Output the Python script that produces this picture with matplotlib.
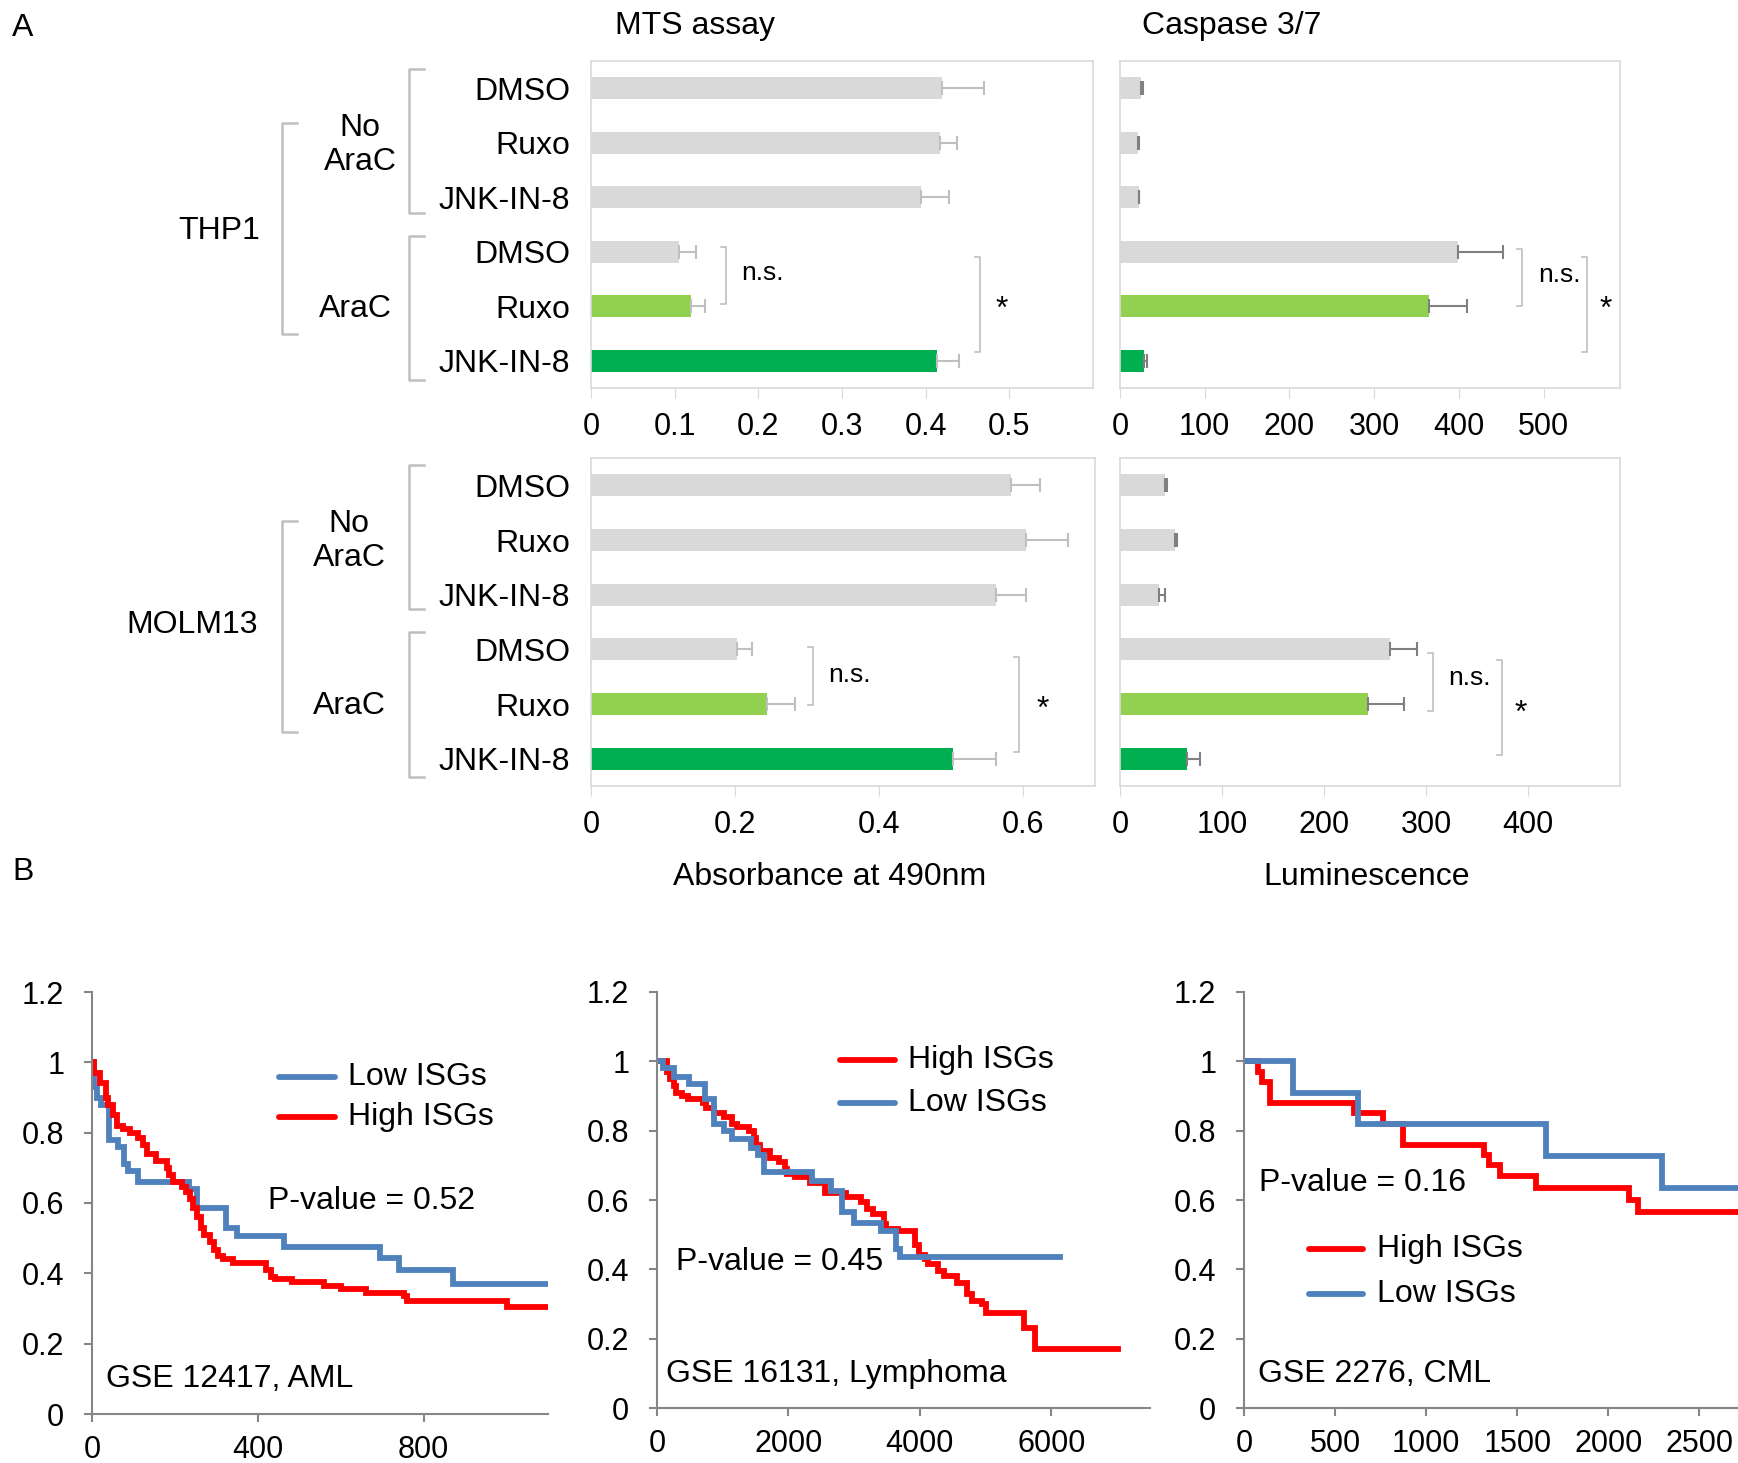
import numpy as np
import matplotlib
matplotlib.use("Agg")
import matplotlib.pyplot as plt
from matplotlib.lines import Line2D

plt.rcParams['font.family'] = ['Liberation Sans', 'DejaVu Sans']

W, H = 1738, 1463

# ---- panel A data ----
rows = ["DMSO", "Ruxo", "JNK-IN-8", "DMSO", "Ruxo", "JNK-IN-8"]
bar_colors = ['#d9d9d9', '#d9d9d9', '#d9d9d9', '#d9d9d9', '#92d050', '#00b050']

thp1_mts = [0.42, 0.417, 0.395, 0.105, 0.12, 0.413]
thp1_mts_err = [0.05, 0.021, 0.033, 0.02, 0.016, 0.027]
thp1_casp = [25, 21, 22, 399, 365, 28]
thp1_casp_err = [2, 2, 1, 53, 44, 4]
molm_mts = [0.583, 0.604, 0.563, 0.203, 0.245, 0.503]
molm_mts_err = [0.04, 0.059, 0.041, 0.021, 0.039, 0.06]
molm_casp = [43.7, 53.5, 37.9, 265, 243, 65.5]
molm_casp_err = [2.5, 2, 6, 26, 35, 13]

# ---- panel B data (Kaplan-Meier steps) ----
aml_low_t = [0, 5, 12, 22, 40, 63, 78, 88, 110, 235, 253, 324, 349, 463, 694, 741, 872, 1100]
aml_low_s = [1.0, 0.93, 0.90, 0.88, 0.78, 0.76, 0.71, 0.69, 0.66, 0.64, 0.585, 0.53, 0.505, 0.475, 0.445, 0.41, 0.37, 0.37]
aml_high_t = [0, 4, 20, 33, 38, 51, 60, 74, 92, 110, 123, 132, 155, 182, 186, 195, 218, 227, 236, 244,
              253, 262, 271, 285, 294, 303, 316, 339, 420, 433, 442, 483, 559, 600, 662, 752, 761, 1000, 1100]
aml_high_s = [1.0, 0.97, 0.94, 0.90, 0.88, 0.85, 0.82, 0.81, 0.80, 0.785, 0.765, 0.74, 0.72, 0.70, 0.68, 0.66, 0.645, 0.63, 0.61, 0.585,
              0.56, 0.53, 0.51, 0.49, 0.465, 0.45, 0.44, 0.43, 0.41, 0.39, 0.385, 0.375, 0.365, 0.355, 0.345, 0.335, 0.32, 0.305, 0.305]

lym_high_t = [0, 145, 203, 262, 291, 378, 465, 698, 744, 872, 1017, 1134, 1221, 1395, 1483, 1512, 1570, 1715, 1860, 1948,
              1977, 2093, 2326, 2558, 2878, 3110, 3198, 3285, 3459, 3488, 3663, 3924, 3983, 4070, 4128, 4273, 4360, 4564,
              4709, 4797, 4942, 5000, 5581, 5756, 7006]
lym_high_s = [1.0, 0.97, 0.95, 0.93, 0.91, 0.90, 0.89, 0.88, 0.865, 0.85, 0.84, 0.82, 0.81, 0.80, 0.78, 0.76, 0.74, 0.72, 0.71, 0.69,
              0.675, 0.665, 0.65, 0.62, 0.61, 0.595, 0.575, 0.56, 0.53, 0.515, 0.51, 0.47, 0.44, 0.43, 0.415, 0.395, 0.38, 0.36,
              0.33, 0.31, 0.30, 0.275, 0.23, 0.17, 0.17]
lym_low_t = [0, 87, 262, 494, 727, 860, 1017, 1134, 1424, 1541, 1628, 2355, 2645, 2820, 2994, 3401, 3634, 3692, 6134]
lym_low_s = [1.0, 0.98, 0.955, 0.935, 0.89, 0.82, 0.80, 0.775, 0.75, 0.73, 0.68, 0.655, 0.625, 0.565, 0.535, 0.51, 0.46, 0.435, 0.435]

cml_high_t = [0, 78, 99, 144, 606, 764, 873, 1320, 1345, 1407, 1602, 2111, 2162, 2712]
cml_high_s = [1.0, 0.97, 0.94, 0.88, 0.85, 0.82, 0.76, 0.73, 0.70, 0.67, 0.635, 0.60, 0.565, 0.565]
cml_low_t = [0, 267, 626, 1659, 2296, 2712]
cml_low_s = [1.0, 0.908, 0.818, 0.726, 0.636, 0.636]

RED = '#ff0000'
BLUE = '#4f81bd'

fig = plt.figure(figsize=(W / 100, H / 100), dpi=100)


def box(l, t, r, b):
    return [l / W, 1 - b / H, (r - l) / W, (b - t) / H]


def fx(x):
    return x / W


def fy(y):
    return 1 - y / H


# ---------- Panel A ----------
def bar_panel(rect, vals, errs, xmax, ticks, ecolor, ns, star, show_labels=True):
    ax = fig.add_axes(rect)
    y = np.arange(len(rows))
    ax.barh(y, vals, height=0.4, color=bar_colors,
            xerr=[np.zeros(len(errs)), errs],
            error_kw=dict(ecolor=ecolor, elinewidth=1.5, capsize=5, capthick=1.5))
    ax.set_ylim(5.5, -0.5)
    ax.set_xlim(0, xmax)
    ax.set_xticks(ticks)
    ax.set_xticklabels([f'{t:g}' for t in ticks], fontsize=22)
    ax.set_yticks(y)
    if show_labels:
        ax.set_yticklabels(rows, fontsize=23)
    else:
        ax.set_yticklabels([])
    ax.tick_params(axis='y', length=0, pad=15)
    ax.tick_params(axis='x', length=7, color='#d9d9d9', pad=10)
    for s in ax.spines.values():
        s.set_color('#d9d9d9')
        s.set_linewidth(1.2)
    d = xmax * 0.01
    # significance brackets
    xb, y1, y2, tx, ty = ns
    ax.plot([xb - d, xb, xb, xb - d], [y1, y1, y2, y2], color='#bfbfbf', lw=1.2, clip_on=False)
    ax.text(tx, ty, 'n.s.', fontsize=19, ha='left', va='center')
    xb, y1, y2, tx, ty = star
    ax.plot([xb - d, xb, xb, xb - d], [y1, y1, y2, y2], color='#bfbfbf', lw=1.2, clip_on=False)
    ax.text(tx, ty, '*', fontsize=23, ha='center', va='center')
    return ax


bar_panel(box(591, 61, 1093, 388), thp1_mts, thp1_mts_err, 0.6, [0, 0.1, 0.2, 0.3, 0.4, 0.5], '#bfbfbf',
          (0.161, 2.91, 3.96, 0.179, 3.39), (0.465, 3.1, 4.84, 0.491, 4.07))
bar_panel(box(1120, 61, 1620, 388), thp1_casp, thp1_casp_err, 590, [0, 100, 200, 300, 400, 500], '#808080',
          (474, 2.95, 3.99, 493, 3.43), (551, 3.1, 4.84, 573, 4.07), show_labels=False)
bar_panel(box(591, 458, 1095, 786), molm_mts, molm_mts_err, 0.7, [0, 0.2, 0.4, 0.6], '#bfbfbf',
          (0.309, 2.96, 4.02, 0.33, 3.47), (0.594, 3.14, 4.88, 0.627, 4.11))
bar_panel(box(1120, 458, 1620, 786), molm_casp, molm_casp_err, 490, [0, 100, 200, 300, 400], '#808080',
          (307, 3.07, 4.13, 322, 3.52), (374, 3.19, 4.93, 393, 4.18), show_labels=False)


def bracket(x, y1, y2, d=15):
    fig.add_artist(Line2D([fx(x + d), fx(x), fx(x), fx(x + d)], [fy(y1), fy(y1), fy(y2), fy(y2)],
                          color='#bfbfbf', lw=1.8))


bracket(282, 123, 334)
bracket(409, 69, 213)
bracket(409, 236, 380)
bracket(282, 521, 732)
bracket(409, 465, 609)
bracket(409, 632, 777)

fs = 23
fig.text(fx(219), fy(231), 'THP1', ha='center', va='center', fontsize=fs)
fig.text(fx(360), fy(145), 'No\nAraC', ha='center', va='center', fontsize=fs, linespacing=1.15)
fig.text(fx(355), fy(309), 'AraC', ha='center', va='center', fontsize=fs)
fig.text(fx(192), fy(625), 'MOLM13', ha='center', va='center', fontsize=fs)
fig.text(fx(349), fy(541), 'No\nAraC', ha='center', va='center', fontsize=fs, linespacing=1.15)
fig.text(fx(349), fy(706), 'AraC', ha='center', va='center', fontsize=fs)

fig.text(fx(615), fy(26), 'MTS assay', ha='left', va='center', fontsize=fs)
fig.text(fx(1142), fy(26), 'Caspase 3/7', ha='left', va='center', fontsize=fs)
fig.text(fx(830), fy(877), 'Absorbance at 490nm', ha='center', va='center', fontsize=fs)
fig.text(fx(1367), fy(877), 'Luminescence', ha='center', va='center', fontsize=fs)
fig.text(fx(12), fy(28), 'A', ha='left', va='center', fontsize=fs)
fig.text(fx(12), fy(872), 'B', ha='left', va='center', fontsize=fs)


# ---------- Panel B ----------
def km_panel(rect, xmax, xticks, curves, legend, pval, name):
    ax = fig.add_axes(rect)
    for t, s, c in curves:
        ax.step(t, s, where='post', color=c, lw=4.2, solid_joinstyle='miter')
    ax.set_xlim(0, xmax)
    ax.set_ylim(0, 1.2)
    ax.set_xticks(xticks)
    ax.set_xticklabels([str(v) for v in xticks], fontsize=22)
    yt = [0, 0.2, 0.4, 0.6, 0.8, 1.0, 1.2]
    ax.set_yticks(yt)
    ax.set_yticklabels(['0', '0.2', '0.4', '0.6', '0.8', '1', '1.2'], fontsize=22)
    ax.spines['top'].set_visible(False)
    ax.spines['right'].set_visible(False)
    for s in ['left', 'bottom']:
        ax.spines[s].set_color('#868686')
        ax.spines[s].set_linewidth(1.5)
    ax.tick_params(axis='both', direction='out', length=6, width=1.5, color='#868686')
    ax.tick_params(axis='x', pad=9)
    ax.tick_params(axis='y', pad=14)
    (lx0, lx1, tx), entries = legend
    for (ly, lab, c) in entries:
        ax.plot([lx0, lx1], [ly, ly], color=c, lw=4.2, solid_capstyle='round', clip_on=False)
        ax.text(tx, ly, lab, fontsize=23, ha='left', va='center')
    ax.text(pval[0], pval[1], pval[2], fontsize=23, ha='left', va='center')
    ax.text(name[0], name[1], name[2], fontsize=23, ha='left', va='center')
    return ax


km_panel(box(92, 992, 548, 1414), 1100, [0, 400, 800],
         [(aml_low_t, aml_low_s, BLUE), (aml_high_t, aml_high_s, RED)],
         ((450, 586, 617), [(0.959, 'Low ISGs', BLUE), (0.844, 'High ISGs', RED)]),
         (425, 0.606, 'P-value = 0.52'), (34, 0.10, 'GSE 12417, AML'))
km_panel(box(657, 992, 1150, 1408), 7500, [0, 2000, 4000, 6000],
         [(lym_high_t, lym_high_s, RED), (lym_low_t, lym_low_s, BLUE)],
         ((2783, 3624, 3823), [(1.005, 'High ISGs', RED), (0.88, 'Low ISGs', BLUE)]),
         (290, 0.42, 'P-value = 0.45'), (138, 0.097, 'GSE 16131, Lymphoma'))
km_panel(box(1244, 992, 1738, 1408), 2712, [0, 500, 1000, 1500, 2000, 2500],
         [(cml_high_t, cml_high_s, RED), (cml_low_t, cml_low_s, BLUE)],
         ((357, 653, 730), [(0.458, 'High ISGs', RED), (0.328, 'Low ISGs', BLUE)]),
         (82, 0.65, 'P-value = 0.16'), (77, 0.097, 'GSE 2276, CML'))

fig.savefig('out.png', dpi=100)
